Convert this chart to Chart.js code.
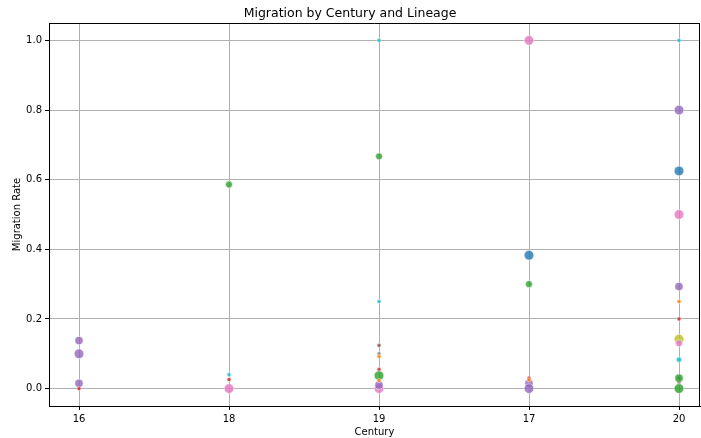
<!DOCTYPE html>
<html lang="en">
<head>
  <meta charset="UTF-8">
  <title>Migration by Century and Lineage</title>
  <script src="https://cdn.jsdelivr.net/npm/chart.js"></script>
  <style>
    html, body { margin: 0; padding: 0; background: #fff; }
    #wrap { width: 701px; height: 438px; }
  </style>
</head>
<body>
  <div id="wrap"><canvas id="chart" width="701" height="438"></canvas></div>
  <script>
    // x categories, in the order they appear on the axis
    const centuries = ['16', '18', '19', '17', '20'];

    // one set of arrays per lineage: century label, migration rate, sample count
    const blueCent = ['17', '20'];
    const blueRate = [0.383, 0.625];
    const blueCount = [5, 5];

    const orangeCent = ['19', '19', '17', '20'];
    const orangeRate = [0.092, 0.023, 0.025, 0.25];
    const orangeCount = [1, 1, 1, 1];

    const greenCent = ['18', '19', '19', '17', '20', '20'];
    const greenRate = [0.586, 0.667, 0.037, 0.3, 0.03, 0.0];
    const greenCount = [3, 3, 5, 3, 4, 5];

    const redCent = ['16', '18', '19', '17', '20'];
    const redRate = [0.0, 0.026, 0.055, 0.03, 0.2];
    const redCount = [1, 1, 1, 1, 1];

    const purpleCent = ['16', '16', '16', '19', '17', '17', '20', '20'];
    const purpleRate = [0.138, 0.1, 0.015, 0.01, 0.015, 0.0, 0.8, 0.293];
    const purpleCount = [4, 5, 4, 4, 4, 5, 5, 4];

    const brownCent = ['19', '20'];
    const brownRate = [0.124, 0.018];
    const brownCount = [1, 1];

    const pinkCent = ['18', '19', '17', '20', '20'];
    const pinkRate = [0.0, 0.0, 1.0, 0.5, 0.13];
    const pinkCount = [5, 5, 5, 5, 3];

    const grayCent = ['19', '20'];
    const grayRate = [0.1, 0.03];
    const grayCount = [1, 1];

    const oliveCent = ['20'];
    const oliveRate = [0.142];
    const oliveCount = [5];

    const cyanCent = ['18', '19', '19', '20', '20'];
    const cyanRate = [0.04, 1.0, 0.25, 1.0, 0.083];
    const cyanCount = [1, 1, 1, 1, 2];

    const yTicks = [0.0, 0.2, 0.4, 0.6, 0.8, 1.0];

    function makeSet(label, color, cents, rates, counts) {
      return {
        label: label,
        data: cents.map((c, i) => ({ x: centuries.indexOf(c), y: rates[i], n: counts[i] })),
        backgroundColor: color + 'cc',
        borderColor: '#ffffff',
        borderWidth: 0.5,
        pointRadius: ctx => ctx.raw ? 1.4 + ctx.raw.n * 0.68 : 2
      };
    }

    const datasets = [
      makeSet('Lineage 1', '#1f77b4', blueCent, blueRate, blueCount),
      makeSet('Lineage 2', '#ff7f0e', orangeCent, orangeRate, orangeCount),
      makeSet('Lineage 3', '#2ca02c', greenCent, greenRate, greenCount),
      makeSet('Lineage 4', '#d62728', redCent, redRate, redCount),
      makeSet('Lineage 5', '#9467bd', purpleCent, purpleRate, purpleCount),
      makeSet('Lineage 6', '#8c564b', brownCent, brownRate, brownCount),
      makeSet('Lineage 7', '#e377c2', pinkCent, pinkRate, pinkCount),
      makeSet('Lineage 8', '#7f7f7f', grayCent, grayRate, grayCount),
      makeSet('Lineage 9', '#bcbd22', oliveCent, oliveRate, oliveCount),
      makeSet('Lineage 10', '#17becf', cyanCent, cyanRate, cyanCount)
    ];

    // top and right spines
    const frame = {
      id: 'frame',
      afterDraw(chart) {
        const a = chart.chartArea, c = chart.ctx;
        c.save();
        c.strokeStyle = '#000';
        c.lineWidth = 1;
        c.beginPath();
        c.moveTo(a.left, a.top + 0.5);
        c.lineTo(a.right, a.top + 0.5);
        c.moveTo(a.right - 0.5, a.top);
        c.lineTo(a.right - 0.5, a.bottom);
        c.stroke();
        c.restore();
      }
    };

    const font = { family: 'DejaVu Sans', size: 10 };

    function noPad(s) {
      s.paddingLeft = 0;
      s.paddingRight = 0;
      s.paddingTop = 0;
      s.paddingBottom = 0;
    }

    new Chart(document.getElementById('chart'), {
      type: 'scatter',
      data: { datasets },
      plugins: [frame],
      options: {
        responsive: false,
        animation: false,
        layout: { autoPadding: false, padding: { left: 0, right: 1, top: 0, bottom: 0 } },
        plugins: {
          legend: { display: false },
          tooltip: { enabled: false },
          title: {
            display: true,
            text: 'Migration by Century and Lineage',
            color: '#000',
            font: { family: 'DejaVu Sans', size: 12.5, weight: 'normal' },
            padding: { top: 6, bottom: 2 }
          }
        },
        scales: {
          x: {
            type: 'linear',
            min: -0.2,
            max: 4.14,
            afterBuildTicks: s => { s.ticks = centuries.map((c, i) => ({ value: i })); },
            afterFit: s => { s.height = 32; noPad(s); },
            ticks: {
              color: '#000',
              font,
              padding: 3,
              callback: v => centuries[v]
            },
            grid: { color: '#b0b0b0', tickColor: '#000', tickLength: 4 },
            border: { display: true, color: '#000' },
            title: { display: true, text: 'Century', color: '#000', font, padding: { top: 0, bottom: 0 } }
          },
          y: {
            min: -0.05,
            max: 1.05,
            afterBuildTicks: s => { s.ticks = yTicks.map(v => ({ value: v })); },
            afterFit: s => { s.width = 49; noPad(s); },
            ticks: {
              color: '#000',
              font,
              padding: 3,
              callback: v => v.toFixed(1)
            },
            grid: { color: '#b0b0b0', tickColor: '#000', tickLength: 4 },
            border: { display: true, color: '#000' },
            title: { display: true, text: 'Migration Rate', color: '#000', font, padding: { top: 11, bottom: 0 } }
          }
        }
      }
    });
  </script>
</body>
</html>
